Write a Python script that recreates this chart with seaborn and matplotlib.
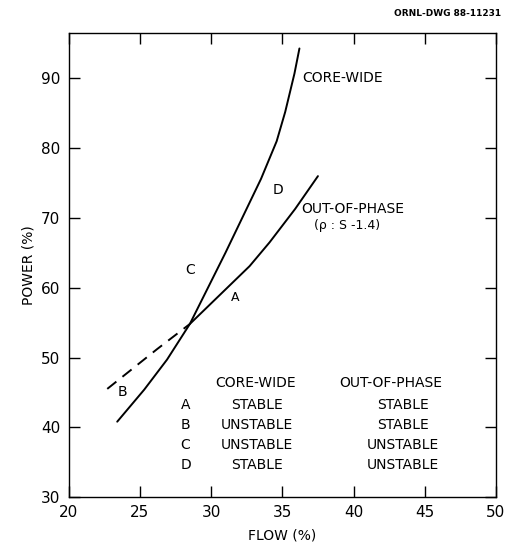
import pandas as pd
import seaborn as sns
import matplotlib.pyplot as plt

# data (flow %, power %)
core_flow = [23.4, 25.3, 26.9, 28.5, 31.0, 33.5, 34.6, 35.2, 35.85, 36.2]
core_power = [40.8, 45.4, 49.7, 54.8, 65.0, 75.6, 81.0, 85.2, 90.7, 94.3]

oop_flow = [28.5, 32.7, 34.1, 35.9, 37.5]
oop_power = [54.8, 63.1, 66.5, 71.3, 76.0]

oop_dash_flow = [22.7, 26.2, 28.5]
oop_dash_power = [45.5, 51.2, 54.8]

regions = ["A", "B", "C", "D"]
core_state = ["STABLE", "UNSTABLE", "UNSTABLE", "STABLE"]
oop_state = ["STABLE", "STABLE", "UNSTABLE", "UNSTABLE"]

sns.set_style("ticks")
plt.rcParams["font.family"] = ["DejaVu Sans"]
plt.rcParams["text.color"] = "black"
plt.rcParams["axes.labelcolor"] = "black"
plt.rcParams["xtick.color"] = "black"
plt.rcParams["ytick.color"] = "black"

fig = plt.figure(figsize=(5.06, 5.52), dpi=100)
ax = fig.add_axes([0.136, 0.0996, 0.844, 0.8404])

core = pd.DataFrame({"flow": core_flow, "power": core_power})
oop = pd.DataFrame({"flow": oop_flow, "power": oop_power})
dash = pd.DataFrame({"flow": oop_dash_flow, "power": oop_dash_power})

sns.lineplot(data=core, x="flow", y="power", ax=ax, color="black", lw=1.4, sort=False)
sns.lineplot(data=oop, x="flow", y="power", ax=ax, color="black", lw=1.4, sort=False)
sns.lineplot(data=dash, x="flow", y="power", ax=ax, color="black", lw=1.4,
             sort=False, linestyle=(0, (6, 4)))

ax.set_xlim(20, 50)
ax.set_ylim(30, 96.5)
ax.set_xticks([20, 25, 30, 35, 40, 45, 50])
ax.set_yticks([30, 40, 50, 60, 70, 80, 90])
ax.tick_params(direction="in", length=8, width=1, labelsize=11,
               top=True, right=True, pad=6)
for s in ax.spines.values():
    s.set_linewidth(1)
    s.set_color("black")

ax.set_xlabel("FLOW (%)", fontsize=10, labelpad=6)
ax.set_ylabel("POWER (%)", fontsize=10, labelpad=4)

# curve labels
ax.text(36.4, 90, "CORE-WIDE", fontsize=10, va="center", ha="left")
ax.text(36.3, 71.3, "OUT-OF-PHASE", fontsize=10, va="center", ha="left")
ax.text(37.2, 68.9, "(\u03c1 : S -1.4)", fontsize=9, va="center", ha="left")
ax.text(34.7, 74, "D", fontsize=10, ha="center", va="center")
ax.text(28.5, 62.5, "C", fontsize=10, ha="center", va="center")
ax.text(31.7, 58.6, "A", fontsize=9, ha="center", va="center")
ax.text(23.8, 45.0, "B", fontsize=10, ha="center", va="center")

# stability table
ax.text(33.1, 46.4, "CORE-WIDE", fontsize=10, ha="center", va="center")
ax.text(42.6, 46.4, "OUT-OF-PHASE", fontsize=10, ha="center", va="center")
rows_y = [43.2, 40.3, 37.5, 34.6]
for r, c, o, y in zip(regions, core_state, oop_state, rows_y):
    ax.text(28.2, y, r, fontsize=10, ha="center", va="center")
    ax.text(33.2, y, c, fontsize=10, ha="center", va="center")
    ax.text(43.5, y, o, fontsize=10, ha="center", va="center")

fig.text(0.99, 0.975, "ORNL-DWG 88-11231", fontsize=6.5, ha="right",
         va="center", weight="bold")

fig.savefig("out.png", dpi=100)
